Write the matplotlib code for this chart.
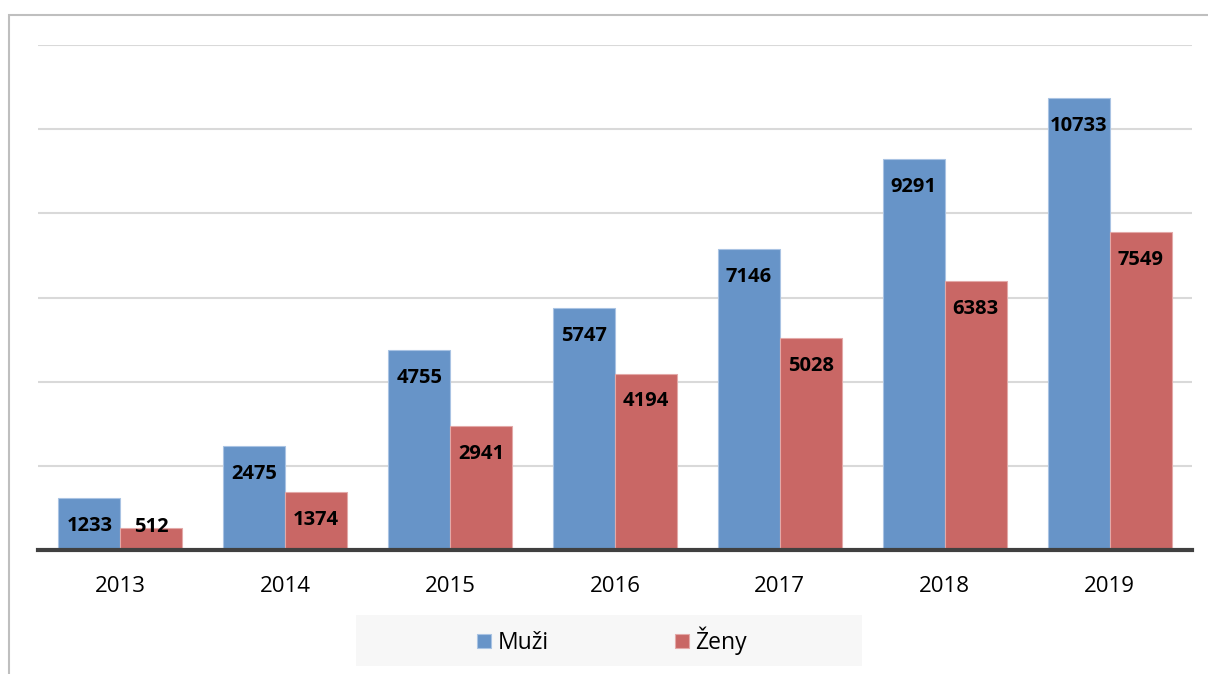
import matplotlib
matplotlib.use('Agg')
import matplotlib.pyplot as plt
import numpy as np
from matplotlib.patches import Rectangle

years = ['2013', '2014', '2015', '2016', '2017', '2018', '2019']
muzi = [1233, 2475, 4755, 5747, 7146, 9291, 10733]
zeny = [512, 1374, 2941, 4194, 5028, 6383, 7549]
series_names = ['Muži', 'Ženy']

BLUE = '#6794C8'
RED = '#C96765'

plt.rcParams['font.family'] = ['Open Sans', 'DejaVu Sans']

fig = plt.figure(figsize=(12.08, 6.74), dpi=100)
W, H = 1208, 674
# outer chart frame (extends past right/bottom edge like the reference crop)
fig.patches.append(Rectangle((9 / W, -0.1), 1.2, (674 - 15) / H + 0.1,
                             transform=fig.transFigure, fill=False,
                             edgecolor='#BFBFBF', lw=1.5, zorder=0))

ax = fig.add_axes([38 / W, 1 - 550 / H, (1192 - 38) / W, (550 - 45) / H])
x = np.arange(len(years))
w = 0.376
b1 = ax.bar(x - w / 2, muzi, w, color=BLUE, edgecolor='#A9C3E3', lw=0.8, label=series_names[0], zorder=2)
b2 = ax.bar(x + w / 2, zeny, w, color=RED, edgecolor='#E3A9A8', lw=0.8, label=series_names[1], zorder=2)

for bars, vals in ((b1, muzi), (b2, zeny)):
    for r, v in zip(bars, vals):
        ax.text(r.get_x() + r.get_width() / 2, max(v - 660, 545), str(v),
                ha='center', va='center', fontsize=14.5, fontweight='bold', zorder=3)

ax.set_xlim(-0.5, len(years) - 0.5)
ax.set_ylim(0, 12000)
ax.set_yticks(np.arange(2000, 12001, 2000))
ax.yaxis.grid(True, color='#D9D9D9', lw=1.5, zorder=0)
ax.set_axisbelow(True)
ax.tick_params(axis='y', length=0, labelleft=False)
ax.set_xticks(x)
ax.set_xticklabels(years, fontsize=16)
ax.tick_params(axis='x', length=0, pad=19)
for s in ('top', 'right', 'left'):
    ax.spines[s].set_visible(False)
ax.spines['bottom'].set_color('#404040')
ax.spines['bottom'].set_linewidth(3)
ax.spines['bottom'].set_zorder(4)

fig.patches.append(Rectangle((356 / W, 1 - 666 / H), (862 - 356) / W, (666 - 615) / H,
                             transform=fig.transFigure, facecolor='#F7F7F7',
                             edgecolor='none', zorder=1))
leg = fig.legend(handles=[b1, b2], loc='center', bbox_to_anchor=(612 / W, 1 - 641 / H),
                 ncol=2, frameon=False, fontsize=16.5, handlelength=0.6, handleheight=0.6,
                 handletextpad=0.3, columnspacing=5.5)

fig.savefig('out.png', dpi=100)
